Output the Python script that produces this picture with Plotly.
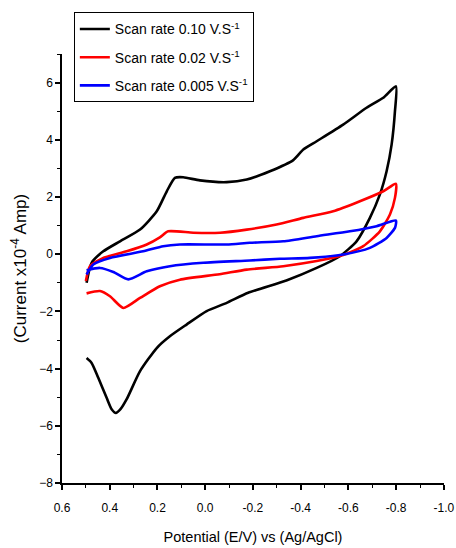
import plotly.graph_objects as go

# Scan rate 0.10 V/s (forward sweep then return sweep)
e_010 = [0.497, 0.476, 0.427, 0.357, 0.273, 0.203, 0.161, 0.127, 0.092, 0.022, -0.09, -0.174,
         -0.271, -0.369, -0.411, -0.467, -0.578, -0.676, -0.746, -0.799,
         -0.795, -0.781, -0.76, -0.732, -0.69, -0.634, -0.564, -0.467, -0.34, -0.18,
         -0.09, -0.006, 0.078, 0.148, 0.203, 0.273, 0.329, 0.355, 0.374, 0.392, 0.413, 0.448,
         0.476, 0.497]
i_010 = [-1.00, -0.30, 0.10, 0.45, 0.86, 1.50, 2.20, 2.67, 2.69, 2.58, 2.52, 2.61,
         2.90, 3.29, 3.66, 3.95, 4.53, 5.12, 5.47, 5.87,
         5.00, 3.83, 2.90, 2.09, 1.27, 0.45, -0.07, -0.48, -0.92, -1.35,
         -1.70, -1.99, -2.46, -2.87, -3.28, -4.09, -5.07, -5.42, -5.55, -5.42, -5.02, -4.32,
         -3.80, -3.63]

# Scan rate 0.02 V/s
e_002 = [0.50, 0.483, 0.427, 0.329, 0.245, 0.19, 0.155, 0.05, -0.062, -0.174, -0.299, -0.411,
         -0.536, -0.648, -0.746, -0.799,
         -0.795, -0.774, -0.732, -0.662, -0.578, -0.467, -0.327, -0.174, -0.06, 0.106,
         0.19, 0.273, 0.343, 0.399, 0.441, 0.497]
i_002 = [-0.94, -0.42, -0.13, 0.10, 0.34, 0.59, 0.80, 0.75, 0.75, 0.86, 1.04, 1.27,
         1.50, 1.85, 2.20, 2.46,
         1.97, 1.39, 0.80, 0.28, -0.03, -0.24, -0.42, -0.54, -0.70, -0.89,
         -1.12, -1.53, -1.88, -1.47, -1.29, -1.37]

# Scan rate 0.005 V/s
e_0005 = [0.497, 0.469, 0.399, 0.26, 0.176, 0.106, -0.09, -0.187, -0.327, -0.467, -0.606, -0.718,
          -0.799,
          -0.795, -0.76, -0.69, -0.578, -0.439, -0.313, -0.187, 0.008, 0.148, 0.245, 0.322,
          0.385, 0.441, 0.497]
i_0005 = [-0.71, -0.36, -0.13, 0.10, 0.28, 0.34, 0.34, 0.40, 0.45, 0.63, 0.80, 0.98,
          1.18,
          0.92, 0.57, 0.22, -0.01, -0.13, -0.16, -0.22, -0.30, -0.42, -0.60, -0.88,
          -0.62, -0.48, -0.56]

x_ticks = [0.6, 0.4, 0.2, 0.0, -0.2, -0.4, -0.6, -0.8, -1.0]
x_labels = ["0.6", "0.4", "0.2", "0.0", "-0.2", "-0.4", "-0.6", "-0.8", "-1.0"]

names = ["Scan rate 0.10 V.S<sup>-1</sup>", "Scan rate 0.02 V.S<sup>-1</sup>",
         "Scan rate 0.005 V.S<sup>-1</sup>"]
colors = ["#000000", "#ff0000", "#0000ff"]
series = [(e_010, i_010), (e_002, i_002), (e_0005, i_0005)]

fig = go.Figure()
for k, ((e, i), nm, c) in enumerate(zip(series, names, colors)):
    fig.add_trace(go.Scatter(x=e, y=i, mode="lines", name=nm, legendgroup=str(k),
                             line=dict(color=c, width=2.6, shape="spline", smoothing=0.6)))

sans = "Liberation Sans, Arial, sans-serif"
fig.update_layout(
    width=456, height=548,
    margin=dict(l=62, r=12, t=54, b=65),
    plot_bgcolor="white", paper_bgcolor="white",
    font=dict(family=sans, size=12, color="black"),
    legend=dict(x=0.031, y=1.097, xanchor="left", yanchor="top",
                bordercolor="black", borderwidth=1, bgcolor="white",
                font=dict(family=sans, size=14, color="black"),
                tracegroupgap=7, itemwidth=30),
    xaxis=dict(range=[0.6, -1.0005], tickmode="array", tickvals=x_ticks, ticktext=x_labels,
               showline=True, linecolor="black", linewidth=1.5,
               ticks="outside", ticklen=5, tickwidth=1.5, tickcolor="black",
               ticklabelstandoff=8, automargin=False,
               tickfont=dict(family=sans, size=12),
               minor=dict(dtick=0.1, tick0=0, ticks="outside", ticklen=3, tickwidth=1.2,
                          tickcolor="black"),
               showgrid=False, zeroline=False, mirror=False,
               title=dict(text="Potential (E/V) vs (Ag/AgCl)", standoff=18,
                          font=dict(family=sans, size=14.5))),
    yaxis=dict(range=[-8, 7], tick0=-8, dtick=2, automargin=False,
               showline=True, linecolor="black", linewidth=1.5,
               ticks="outside", ticklen=5, tickwidth=1.5, tickcolor="black",
               tickfont=dict(family=sans, size=12),
               minor=dict(dtick=1, ticks="outside", ticklen=3, tickwidth=1.2, tickcolor="black"),
               showgrid=False, zeroline=False, mirror=False,
               title=dict(text="(Current x10<sup>-4</sup> Amp)", standoff=8,
                          font=dict(family=sans, size=17))),
)

fig.write_html("out.html")
